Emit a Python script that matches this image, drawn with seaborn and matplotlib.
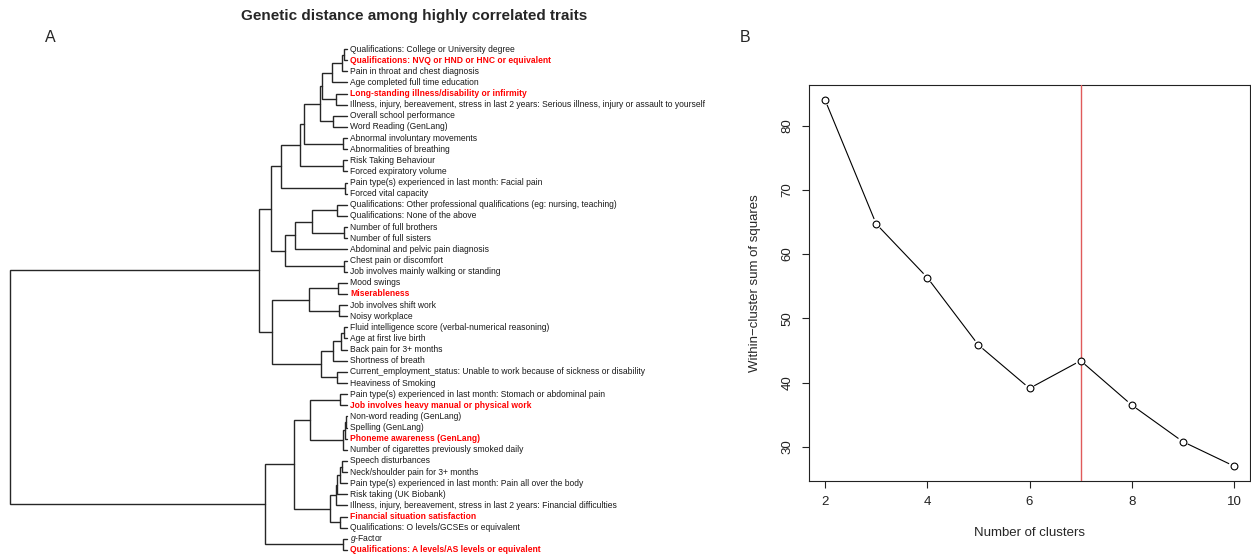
import numpy as np
import pandas as pd
import matplotlib
matplotlib.use("Agg")
import matplotlib.pyplot as plt
import seaborn as sns

# leaf labels of the dendrogram, top to bottom
traits = [
    "Qualifications: College or University degree",
    "Qualifications: NVQ or HND or HNC or equivalent",
    "Pain in throat and chest diagnosis",
    "Age completed full time education",
    "Long-standing illness/disability or infirmity",
    "Illness, injury, bereavement, stress in last 2 years: Serious illness, injury or assault to yourself",
    "Overall school performance",
    "Word Reading (GenLang)",
    "Abnormal involuntary movements",
    "Abnormalities of breathing",
    "Risk Taking Behaviour",
    "Forced expiratory volume",
    "Pain type(s) experienced in last month: Facial pain",
    "Forced vital capacity",
    "Qualifications: Other professional qualifications (eg: nursing, teaching)",
    "Qualifications: None of the above",
    "Number of full brothers",
    "Number of full sisters",
    "Abdominal and pelvic pain diagnosis",
    "Chest pain or discomfort",
    "Job involves mainly walking or standing",
    "Mood swings",
    "Miserableness",
    "Job involves shift work",
    "Noisy workplace",
    "Fluid intelligence score (verbal-numerical reasoning)",
    "Age at first live birth",
    "Back pain for 3+ months",
    "Shortness of breath",
    "Current_employment_status: Unable to work because of sickness or disability",
    "Heaviness of Smoking",
    "Pain type(s) experienced in last month: Stomach or abdominal pain",
    "Job involves heavy manual or physical work",
    "Non-word reading (GenLang)",
    "Spelling (GenLang)",
    "Phoneme awareness (GenLang)",
    "Number of cigarettes previously smoked daily",
    "Speech disturbances",
    "Neck/shoulder pain for 3+ months",
    "Pain type(s) experienced in last month: Pain all over the body",
    "Risk taking (UK Biobank)",
    "Illness, injury, bereavement, stress in last 2 years: Financial difficulties",
    "Financial situation satisfaction",
    "Qualifications: O levels/GCSEs or equivalent",
    r"$g$-Factor",
    "Qualifications: A levels/AS levels or equivalent",
]

# traits shown in red bold
highlight = [1, 4, 22, 32, 35, 42, 45]

# merges (left, right, height); nodes 0..45 are leaves, merge k creates node 46+k
merges = [
    (0, 1, 0.009), (46, 2, 0.015), (47, 3, 0.045), (4, 5, 0.033),
    (48, 49, 0.075), (6, 7, 0.042), (50, 51, 0.079), (8, 9, 0.012),
    (52, 53, 0.128), (10, 11, 0.012), (54, 55, 0.139), (12, 13, 0.006),
    (56, 57, 0.196), (14, 15, 0.030), (16, 17, 0.009), (59, 60, 0.104),
    (61, 18, 0.154), (19, 20, 0.009), (62, 63, 0.184), (58, 64, 0.226),
    (21, 22, 0.027), (23, 24, 0.024), (66, 67, 0.113), (25, 26, 0.009),
    (69, 27, 0.018), (70, 28, 0.042), (29, 30, 0.030), (71, 72, 0.077),
    (68, 73, 0.223), (65, 74, 0.261), (31, 32, 0.021), (33, 34, 0.003),
    (77, 35, 0.006), (78, 36, 0.012), (76, 79, 0.110), (37, 38, 0.015),
    (81, 39, 0.021), (82, 40, 0.031), (83, 41, 0.034), (42, 43, 0.021),
    (84, 85, 0.050), (80, 86, 0.157), (44, 45, 0.012), (87, 88, 0.243),
    (75, 89, 1.000),
]

# elbow plot
n_clusters = [2, 3, 4, 5, 6, 7, 8, 9, 10]
wss = [84.0, 64.7, 56.35, 45.85, 39.1, 43.4, 36.5, 30.8, 27.0]
chosen_k = 7

sns.set_style("white")
plt.rcParams["font.family"] = ["Liberation Sans", "DejaVu Sans"]
plt.rcParams["mathtext.fontset"] = "custom"
plt.rcParams["mathtext.it"] = "Liberation Sans:italic"
plt.rcParams["mathtext.rm"] = "Liberation Sans"

W, H = 1251, 558
fig = plt.figure(figsize=(W / 100, H / 100), dpi=100)


def box(x0, y0, x1, y1):
    return [x0 / W, 1 - y1 / H, (x1 - x0) / W, (y1 - y0) / H]


# ---- A: dendrogram ----
step = (550 - 49) / 45
ax = fig.add_axes(box(10, 49 - step / 2, 347, 550 + step / 2))
n = len(traits)
ypos = {i: float(i) for i in range(n)}
hgt = {i: 0.0 for i in range(n)}
for k, (a, b, h) in enumerate(merges):
    ax.plot([hgt[a], h, h, hgt[b]], [ypos[a], ypos[a], ypos[b], ypos[b]],
            color="#262626", lw=1.0, solid_joinstyle="miter", clip_on=False)
    ypos[n + k] = (ypos[a] + ypos[b]) / 2
    hgt[n + k] = h
ax.set_xlim(1.0, 0.0)
ax.set_ylim(n - 0.5, -0.5)
ax.axis("off")

for i, lab in enumerate(traits):
    red = i in highlight
    ax.text(-0.009, i, lab, va="center", ha="left", fontsize=6.15,
            color="red" if red else "#1a1a1a",
            fontweight="bold" if red else "normal", clip_on=False)

fig.text(414 / W, 1 - 16 / H, "Genetic distance among highly correlated traits",
         ha="center", va="center", fontsize=11, fontweight="bold")
fig.text(50 / W, 1 - 38 / H, "A", ha="center", va="center", fontsize=11.5)
fig.text(745 / W, 1 - 37 / H, "B", ha="center", va="center", fontsize=11.5)

# ---- B: elbow plot ----
bx = fig.add_axes(box(808.7, 85.3, 1250.3, 480.7))
elbow = pd.DataFrame({"k": n_clusters, "wss": wss})
sns.lineplot(data=elbow, x="k", y="wss", color="black", lw=0.8, ax=bx, zorder=2)
sns.scatterplot(data=elbow, x="k", y="wss", s=60, color="white", edgecolor="none",
                ax=bx, zorder=3)
bx.axvline(chosen_k, color="#e05a5a", lw=1.0, zorder=3.5)
sns.scatterplot(data=elbow, x="k", y="wss", s=24, facecolor="white",
                edgecolor="black", linewidth=0.8, ax=bx, zorder=4)

bx.set_xlim(1.68, 10.32)
bx.set_ylim(24.72, 86.28)
bx.set_xticks([2, 4, 6, 8, 10])
bx.set_yticks([30, 40, 50, 60, 70, 80])
bx.tick_params(left=True, bottom=True, direction="out", length=5, width=0.8,
               labelsize=9.5, colors="#222222", pad=6)
for t in bx.get_yticklabels():
    t.set_rotation(90)
    t.set_va("center")
for s in bx.spines.values():
    s.set_color("#222222")
    s.set_linewidth(0.8)
bx.set_xlabel("")
bx.set_ylabel("")
fig.text(1030 / W, 1 - 533 / H, "Number of clusters", ha="center", va="center",
         fontsize=9.5)
fig.text(755 / W, 1 - 283 / H, "Within\u2212cluster sum of squares", ha="center",
         va="center", rotation=90, fontsize=9.5)

fig.savefig("out.png", dpi=100)
